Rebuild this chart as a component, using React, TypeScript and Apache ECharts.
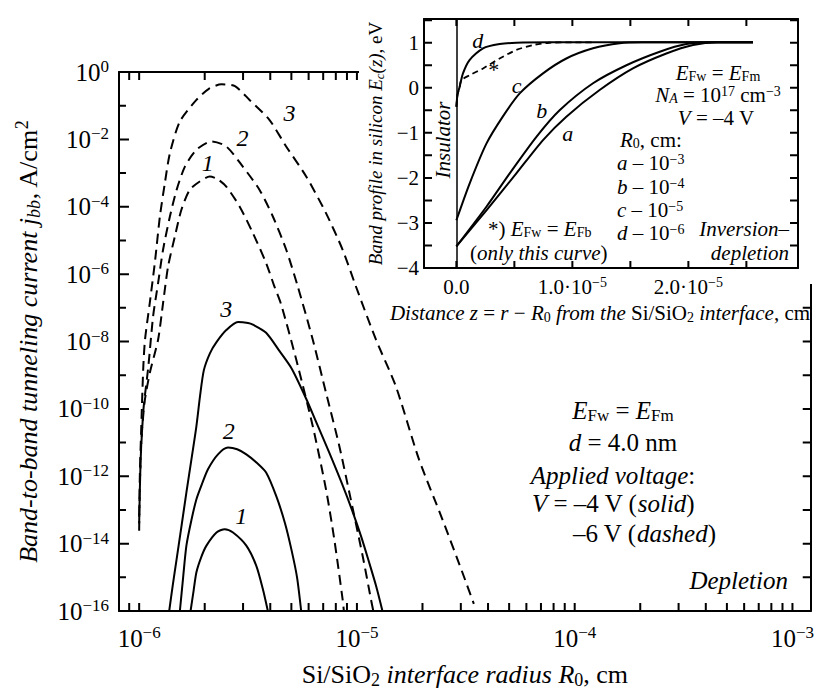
import React, { useEffect, useRef } from 'react';
import * as echarts from 'echarts';

const FONT = '"Liberation Serif", "Times New Roman", Times, serif';

// ---------- Main plot: interface radius R0 (cm) vs log10 j_bb (A/cm^2) ----------
const solid1R0 = [1.722e-6, 1.778e-6, 1.832e-6, 1.928e-6, 2.037e-6, 2.265e-6, 2.472e-6, 2.698e-6, 3.105e-6, 3.451e-6, 3.698e-6, 3.899e-6];
const solid1LogJ = [-16, -15.4, -14.85, -14.4, -14.06, -13.67, -13.57, -13.67, -14.06, -14.66, -15.35, -16];
const solid2R0 = [1.538e-6, 1.592e-6, 1.648e-6, 1.738e-6, 1.832e-6, 1.95e-6, 2.07e-6, 2.301e-6, 2.559e-6, 2.818e-6, 3.105e-6, 3.467e-6, 3.828e-6, 4.266e-6, 4.677e-6, 5.012e-6, 5.309e-6, 5.546e-6];
const solid2LogJ = [-16, -15.0, -14.06, -13.3, -12.68, -12.2, -11.79, -11.35, -11.15, -11.2, -11.35, -11.6, -11.89, -12.6, -13.4, -14.2, -15.0, -16];
const solid3R0 = [1.374e-6, 1.429e-6, 1.486e-6, 1.567e-6, 1.648e-6, 1.738e-6, 1.832e-6, 1.905e-6, 1.982e-6, 2.113e-6, 2.265e-6, 2.512e-6, 2.844e-6, 3.162e-6, 3.327e-6, 3.828e-6, 4.406e-6, 5.012e-6, 5.848e-6, 6.607e-6, 7.464e-6, 8.511e-6, 9.55e-6, 1.047e-5, 1.138e-5, 1.23e-5, 1.309e-5];
const solid3LogJ = [-16, -15.2, -14.46, -13.45, -12.48, -11.5, -10.51, -9.6, -8.85, -8.35, -8.02, -7.66, -7.42, -7.45, -7.5, -7.74, -8.28, -8.8, -9.7, -10.5, -11.3, -12.2, -13.05, -13.8, -14.56, -15.3, -15.99];
const dashed1R0 = [1.0e-6, 1.023e-6, 1.059e-6, 1.122e-6, 1.222e-6, 1.288e-6, 1.358e-6, 1.459e-6, 1.563e-6, 1.706e-6, 1.897e-6, 2.109e-6, 2.291e-6, 2.512e-6, 2.891e-6, 3.327e-6, 3.828e-6, 4.169e-6, 4.487e-6, 5.26e-6, 6.266e-6, 7.211e-6, 7.87e-6, 8.59e-6, 8.71e-6];
const dashed1LogJ = [-13.2, -11.0, -9.8, -8.9, -7.94, -6.85, -5.77, -4.88, -4.09, -3.5, -3.25, -3.1, -3.18, -3.4, -3.99, -4.78, -5.67, -6.35, -6.9, -8.53, -10.51, -12.39, -13.87, -15.64, -16];
const dashed2R0 = [1.0e-6, 1.016e-6, 1.047e-6, 1.102e-6, 1.159e-6, 1.222e-6, 1.288e-6, 1.384e-6, 1.486e-6, 1.622e-6, 1.832e-6, 2.148e-6, 2.512e-6, 2.992e-6, 3.573e-6, 4.111e-6, 4.732e-6, 5.346e-6, 6.266e-6, 7.211e-6, 8.299e-6, 9.226e-6, 1.062e-5, 1.159e-5, 1.189e-5];
const dashed2LogJ = [-13.4, -11.5, -10.0, -8.74, -7.25, -6.26, -5.27, -4.29, -3.5, -2.81, -2.31, -2.06, -2.21, -2.81, -3.5, -4.29, -5.27, -6.36, -7.94, -9.52, -11.1, -12.48, -14.36, -15.64, -16];
const dashed3R0 = [1.0e-6, 1.007e-6, 1.023e-6, 1.045e-6, 1.064e-6, 1.119e-6, 1.18e-6, 1.245e-6, 1.312e-6, 1.384e-6, 1.538e-6, 1.832e-6, 2.089e-6, 2.388e-6, 2.754e-6, 3.214e-6, 3.963e-6, 4.732e-6, 5.848e-6, 7.211e-6, 8.59e-6, 9.886e-6, 1.222e-5, 1.507e-5, 1.928e-5, 2.466e-5, 3.048e-5, 3.443e-5];
const dashed3LogJ = [-13.62, -12.0, -10.5, -8.74, -7.94, -6.85, -5.67, -4.29, -3.3, -2.41, -1.47, -0.83, -0.5, -0.365, -0.42, -0.83, -1.42, -2.21, -3.1, -4.19, -5.27, -6.36, -7.94, -9.32, -11.5, -13.27, -14.85, -15.79];

const curveLabelR0 = [4.9e-6, 2.985e-6, 2.065e-6, 2.51e-6, 2.576e-6, 2.944e-6];
const curveLabelLogJ = [-1.21, -1.96, -2.7, -7.05, -10.67, -13.19];
const curveLabelText = ['3', '2', '1', '3', '2', '1'];

// main axis ticks
const mainRTicks = [
  9e-7, 1e-6, 2e-6, 3e-6, 4e-6, 5e-6, 6e-6, 7e-6, 8e-6, 9e-6,
  1e-5, 2e-5, 3e-5, 4e-5, 5e-5, 6e-5, 7e-5, 8e-5, 9e-5,
  1e-4, 2e-4, 3e-4, 4e-4, 5e-4, 6e-4, 7e-4, 8e-4, 9e-4, 1e-3,
];
const mainLogJLabelTicks = [-16, -14, -12, -10, -8, -6, -4, -2, 0];
const mainLogJOddTicks = [-15, -13, -11, -9, -7, -5, -3, -1];

// ---------- Inset: distance z (units of 1e-5 cm) vs band profile Ec (eV) ----------
const insetAz = [0, 0.259, 0.517, 0.747, 0.948, 1.235, 1.522, 1.81, 2.04, 2.25, 2.557];
const insetAE = [-3.52, -2.72, -1.9, -1.16, -0.64, -0.05, 0.43, 0.76, 0.95, 1.01, 1.01];
const insetBz = [0, 0.259, 0.46, 0.69, 0.89, 1.178, 1.466, 1.753, 1.983, 2.2, 2.557];
const insetBE = [-3.52, -2.64, -1.9, -1.09, -0.5, 0.1, 0.5, 0.8, 0.97, 1.01, 1.01];
const insetCz = [0, 0.115, 0.259, 0.4, 0.546, 0.747, 0.948, 1.178, 1.408, 1.6, 2.557];
const insetCE = [-2.94, -2.12, -1.24, -0.64, -0.125, 0.32, 0.65, 0.876, 0.99, 1.01, 1.01];
const insetDz = [0, 0.01, 0.028, 0.057, 0.115, 0.23, 0.373, 0.517, 0.8, 2.557];
const insetDE = [-0.42, -0.15, 0.02, 0.32, 0.62, 0.876, 0.97, 1.0, 1.01, 1.01];
const insetStarZ = [0, 0.01, 0.028, 0.043, 0.115, 0.23, 0.373, 0.517, 0.66, 0.8, 1.0, 1.2];
const insetStarE = [-0.42, -0.15, 0.02, 0.17, 0.28, 0.43, 0.65, 0.84, 0.95, 1.0, 1.01, 1.01];

const insetLabelZ = [0.184, 0.313, 0.52, 0.736, 0.96];
const insetLabelE = [1.06, 0.395, 0.06, -0.5, -1.01];
const insetLabelText = ['d', '*', 'c', 'b', 'a'];

const insetZTicks = [0, 0.5, 1, 1.5, 2, 2.5];
const insetETicks = [-3.5, -3, -2.5, -2, -1.5, -1, -0.5, 0, 0.5, 1, 1.5];

const mainRMin = 8.08e-7;
const mainRMax = 1.213e-3;
const mainLogJMin = -16;
const mainLogJMax = 0;
const insetZMin = -0.279;
const insetZMax = 2.945;
const insetEMin = -4;
const insetEMax = 1.527;

// layout
const CHART_W = 817;
const CHART_H = 694;
const MAIN_GRID = { left: 119, top: 72, right: 4, bottom: 82 };
const INSET_GRID = { left: 424, top: 19, width: 374, height: 249 };
const INSET_PANEL = { x: 359, y: 0, width: 458, height: 284 };

const pairs = (xs: number[], ys: number[]) => xs.map((x, i) => [x, ys[i]]);

function richSet(size: number, lh: number) {
  const small = Math.round(size * 0.68);
  const slh = Math.round(small * 0.7);
  const base = { fontFamily: FONT, color: '#000', fill: '#000' };
  return {
    r: { ...base, fontSize: size, lineHeight: lh, verticalAlign: 'middle' },
    i: { ...base, fontSize: size, lineHeight: lh, fontStyle: 'italic', verticalAlign: 'middle' },
    sub: { ...base, fontSize: small, lineHeight: slh, verticalAlign: 'bottom' },
    isub: { ...base, fontSize: small, lineHeight: slh, fontStyle: 'italic', verticalAlign: 'bottom' },
    sup: { ...base, fontSize: small, lineHeight: slh, verticalAlign: 'top' },
  };
}

const BLACK = '#000';
const axisLine = { show: true, onZero: false, lineStyle: { color: BLACK, width: 2 } };
const noTick = { show: false };

function text(x: number, y: number, str: string, size: number, lh: number, align: string, extra: any = {}) {
  return {
    type: 'text',
    x,
    y,
    z: 30,
    ...extra,
    style: {
      text: str,
      rich: richSet(size, lh),
      fontFamily: FONT,
      fontSize: size,
      fill: BLACK,
      align,
      verticalAlign: 'middle',
      textAlign: align,
      textVerticalAlign: 'middle',
    },
  };
}

function logLabel(v: number) {
  const e = Math.log10(v);
  const r = Math.round(e);
  if (Math.abs(e - r) > 1e-6) return '';
  return `{r|10}{sup|${r < 0 ? '−' + -r : r}}`;
}

function lineSeries(name: string, xs: number[], ys: number[], dashed: boolean, xi: number, yi: number, z = 2, width = 2, dash: number[] = [10, 6]) {
  return {
    type: 'line',
    name,
    xAxisIndex: xi,
    yAxisIndex: yi,
    data: pairs(xs, ys),
    showSymbol: false,
    symbol: 'none',
    smooth: 0.25,
    clip: true,
    z,
    silent: true,
    lineStyle: { color: BLACK, width, type: dashed ? dash : 'solid' },
  };
}

// tick marks drawn as short segments of a line series (broken by empty points)
function tickSeries(name: string, segments: number[][][], xi: number, yi: number, z: number) {
  const data: any[] = [];
  segments.forEach(([a, b]) => {
    data.push(a, b, [a[0], '-']);
  });
  return {
    type: 'line',
    name,
    xAxisIndex: xi,
    yAxisIndex: yi,
    data,
    connectNulls: false,
    showSymbol: false,
    symbol: 'none',
    smooth: false,
    clip: false,
    z,
    silent: true,
    lineStyle: { color: BLACK, width: 2, type: 'solid', cap: 'butt' },
  };
}

const labelStyle = (size: number) => ({
  show: true,
  position: 'inside',
  formatter: '{b}',
  fontFamily: FONT,
  fontSize: size,
  fontStyle: 'italic',
  color: BLACK,
  opacity: 1,
  textBorderWidth: 0,
});

export default function App() {
  const ref = useRef<HTMLDivElement>(null);
  useEffect(() => {
    if (!ref.current) return;
    const chart = echarts.init(ref.current, null, { renderer: 'svg' });

    // pixel -> data conversions for tick lengths, from each grid's size and axis span
    const mainW = CHART_W - MAIN_GRID.left - MAIN_GRID.right;
    const mainH = CHART_H - MAIN_GRID.top - MAIN_GRID.bottom;
    const mainLogSpanX = Math.log10(mainRMax / mainRMin);
    const mYLen = (px: number) => (px * (mainLogJMax - mainLogJMin)) / mainH;
    const mXFactor = (px: number) => Math.pow(10, (px * mainLogSpanX) / mainW);
    const iYLen = (px: number) => (px * (insetEMax - insetEMin)) / INSET_GRID.height;
    const iXLen = (px: number) => (px * (insetZMax - insetZMin)) / INSET_GRID.width;

    const mainTickSegs: number[][][] = [];
    mainRTicks.forEach((v) => {
      mainTickSegs.push([[v, mainLogJMin], [v, mainLogJMin + mYLen(8)]]);
      mainTickSegs.push([[v, mainLogJMax], [v, mainLogJMax - mYLen(8)]]);
    });
    mainLogJLabelTicks.forEach((v) => {
      mainTickSegs.push([[mainRMin, v], [mainRMin * mXFactor(10), v]]);
      mainTickSegs.push([[mainRMax, v], [mainRMax / mXFactor(8), v]]);
    });
    mainLogJOddTicks.forEach((v) => {
      mainTickSegs.push([[mainRMin, v], [mainRMin * mXFactor(7), v]]);
      mainTickSegs.push([[mainRMax, v], [mainRMax / mXFactor(8), v]]);
    });

    const insetTickSegs: number[][][] = [];
    insetZTicks.forEach((v) => {
      insetTickSegs.push([[v, insetEMin], [v, insetEMin + iYLen(7)]]);
      insetTickSegs.push([[v, insetEMax], [v, insetEMax - iYLen(7)]]);
    });
    insetETicks.forEach((v) => {
      insetTickSegs.push([[insetZMin, v], [insetZMin + iXLen(8), v]]);
      insetTickSegs.push([[insetZMax, v], [insetZMax - iXLen(8), v]]);
    });

    const mainX = (pos: string, labels: boolean) => ({
      type: 'log',
      logBase: 10,
      gridIndex: 0,
      position: pos,
      min: mainRMin,
      max: mainRMax,
      axisLine,
      axisTick: noTick,
      minorTick: noTick,
      splitLine: { show: false },
      minorSplitLine: { show: false },
      axisLabel: labels
        ? { show: true, margin: 13, formatter: logLabel, rich: richSet(25, 28) }
        : { show: false },
      ...(labels
        ? {
            name: '{r|Si/SiO}{sub|2}{i| interface radius }{i|R}{sub|0}{r|, cm}',
            nameLocation: 'middle',
            nameGap: 48,
            nameTextStyle: { rich: richSet(26, 30) },
          }
        : {}),
    });

    const insetX = (pos: string, labels: boolean) => ({
      type: 'value',
      gridIndex: 1,
      position: pos,
      min: insetZMin,
      max: insetZMax,
      splitNumber: 6,
      z: 20,
      axisLine,
      axisTick: noTick,
      splitLine: { show: false },
      axisLabel: labels
        ? {
            show: true,
            margin: 7,
            rich: richSet(21, 23),
            formatter: (v: number) => {
              const r = Math.round(v);
              if (Math.abs(v - r) > 1e-6) return '';
              return r === 0 ? '{r|0.0}' : `{r|${r}.0·10}{sup|−5}`;
            },
          }
        : { show: false },
      ...(labels
        ? {
            name: '{i|Distance z}{r| = }{i|r}{r| − }{i|R}{sub|0}{i| from the }{r|Si/SiO}{sub|2}{i| interface}{r|, cm}',
            nameLocation: 'middle',
            nameGap: 33,
            nameTextStyle: { rich: richSet(21, 23), padding: [0, 22, 0, 0] },
          }
        : {}),
    });

    const insetY = (pos: string, labels: boolean) => ({
      type: 'value',
      gridIndex: 1,
      position: pos,
      min: insetEMin,
      max: insetEMax,
      interval: 0.5,
      z: 20,
      axisLine,
      axisTick: noTick,
      splitLine: { show: false },
      axisLabel: labels
        ? {
            show: true,
            margin: 5,
            rich: richSet(21, 23),
            formatter: (v: number) => {
              const r = Math.round(v);
              if (Math.abs(v - r) > 1e-6) return '';
              return `{r|${r < 0 ? '−' + -r : r}}`;
            },
          }
        : { show: false },
      ...(labels
        ? {
            name: '{i|Band profile in silicon }{i|E}{isub|c}{i|(z)}{r|, eV}',
            nameLocation: 'middle',
            nameRotate: 90,
            nameGap: 38,
            nameTextStyle: { rich: richSet(19, 21) },
          }
        : {}),
    });

    const mainY = (pos: string, labels: boolean) => ({
      type: 'value',
      gridIndex: 0,
      position: pos,
      min: mainLogJMin,
      max: mainLogJMax,
      interval: 2,
      axisLine,
      axisTick: noTick,
      splitLine: { show: false },
      axisLabel: labels
        ? {
            show: true,
            margin: 10,
            rich: richSet(25, 28),
            formatter: (v: number) => `{r|10}{sup|${v < 0 ? '−' + -v : v}}`,
          }
        : { show: false },
      ...(labels
        ? {
            name: '{i|Band-to-band tunneling current }{i|j}{isub|bb}{r|, A/cm}{sup|2}',
            nameLocation: 'middle',
            nameRotate: 90,
            nameGap: 76,
            nameTextStyle: { rich: richSet(26, 30) },
          }
        : {}),
    });

    const graphics: any[] = [
      { type: 'rect', z: 10, silent: true, shape: { ...INSET_PANEL }, style: { fill: '#fff' } },
      text(623, 410, '{i|E}{sub|Fw}{r| = }{i|E}{sub|Fm}', 25, 27, 'center'),
      text(623, 442, '{i|d}{r| = 4.0 nm}', 25, 27, 'center'),
      text(613, 475, '{i|Applied voltage}{r|:}', 25, 27, 'center'),
      text(532, 503, '{i|V}{r| = –4 V (}{i|solid}{r|)}', 25, 27, 'left'),
      text(573, 533, '{r|–6 V (}{i|dashed}{r|)}', 25, 27, 'left'),
      text(788, 580, '{i|Depletion}', 25, 27, 'right'),
      text(718, 73, '{i|E}{sub|Fw}{r| = }{i|E}{sub|Fm}', 21, 21, 'center'),
      text(718, 95, '{i|N}{isub|A}{r| = 10}{sup|17}{r| cm}{sup|−3}', 21, 21, 'center'),
      text(716, 118, '{i|V}{r| = –4 V}', 21, 21, 'center'),
      text(620, 140, '{i|R}{sub|0}{r|, cm:}', 21, 21, 'left'),
      text(617, 163, '{i|a}{r| – 10}{sup|−3}', 21, 21, 'left'),
      text(617, 187, '{i|b}{r| – 10}{sup|−4}', 21, 21, 'left'),
      text(617, 210, '{i|c}{r| – 10}{sup|−5}', 21, 21, 'left'),
      text(617, 233, '{i|d}{r| – 10}{sup|−6}', 21, 21, 'left'),
      text(789, 229, '{i|Inversion–}', 21, 20, 'right'),
      text(789, 253, '{i|depletion}', 21, 20, 'right'),
      text(488, 229, '{r|*) }{i|E}{sub|Fw}{r| = }{i|E}{sub|Fb}', 21, 20, 'left'),
      text(470, 253, '{r|(}{i|only this curve}{r|)}', 21, 20, 'left'),
      text(443, 140, '{i|Insulator}', 21, 21, 'center', { rotation: Math.PI / 2 }),
    ];

    const option: any = {
      animation: false,
      backgroundColor: '#fff',
      grid: [
        { ...MAIN_GRID, containLabel: false },
        { ...INSET_GRID, containLabel: false },
      ],
      xAxis: [mainX('bottom', true), mainX('top', false), insetX('bottom', true), insetX('top', false)],
      yAxis: [mainY('left', true), mainY('right', false), insetY('left', true), insetY('right', false)],
      series: [
        lineSeries('solid1', solid1R0, solid1LogJ, false, 0, 0),
        lineSeries('solid2', solid2R0, solid2LogJ, false, 0, 0),
        lineSeries('solid3', solid3R0, solid3LogJ, false, 0, 0),
        lineSeries('dashed1', dashed1R0, dashed1LogJ, true, 0, 0),
        lineSeries('dashed2', dashed2R0, dashed2LogJ, true, 0, 0),
        lineSeries('dashed3', dashed3R0, dashed3LogJ, true, 0, 0),
        {
          type: 'scatter',
          xAxisIndex: 0,
          yAxisIndex: 0,
          symbolSize: 0.1,
          silent: true,
          z: 3,
          itemStyle: { color: BLACK, opacity: 1 },
          data: curveLabelR0.map((x, i) => ({ value: [x, curveLabelLogJ[i]], name: curveLabelText[i] })),
          label: labelStyle(24),
        },
        tickSeries('mainTicks', mainTickSegs, 0, 0, 3),
        {
          ...lineSeries('insetA', insetAz, insetAE, false, 2, 2, 20),
          markLine: {
            silent: true,
            z: 25,
            symbol: ['none', 'none'],
            label: { show: false },
            lineStyle: { color: BLACK, width: 1.5, type: 'solid' },
            data: [{ xAxis: 0 }],
          },
        },
        lineSeries('insetB', insetBz, insetBE, false, 2, 2, 20),
        lineSeries('insetC', insetCz, insetCE, false, 2, 2, 20),
        lineSeries('insetD', insetDz, insetDE, false, 2, 2, 20),
        lineSeries('insetStar', insetStarZ, insetStarE, true, 2, 2, 20, 1.8, [6, 4]),
        tickSeries('insetTicks', insetTickSegs, 2, 2, 22),
        {
          type: 'scatter',
          xAxisIndex: 2,
          yAxisIndex: 2,
          symbolSize: 0.1,
          silent: true,
          z: 21,
          itemStyle: { color: BLACK, opacity: 1 },
          data: insetLabelZ.map((x, i) => ({ value: [x, insetLabelE[i]], name: insetLabelText[i] })),
          label: labelStyle(22),
        },
      ],
      graphic: { elements: graphics },
    };

    chart.setOption(option);
    return () => chart.dispose();
  }, []);

  return (
    <div
      ref={ref}
      style={{ position: 'fixed', left: 0, top: 0, width: CHART_W, height: CHART_H, background: '#fff' }}
    />
  );
}
